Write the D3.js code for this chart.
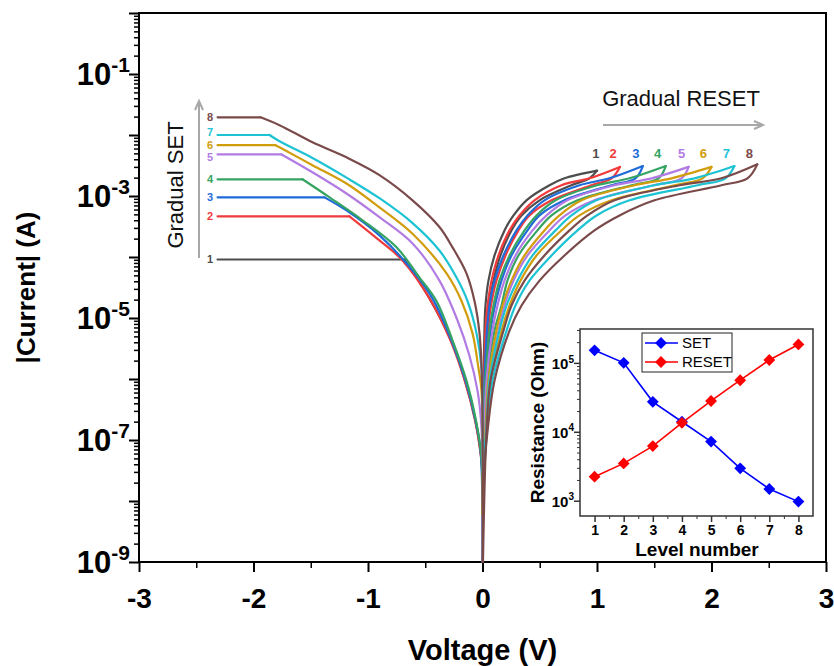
<!DOCTYPE html>
<html>
<head>
<meta charset="utf-8">
<script src="https://cdn.jsdelivr.net/npm/d3@7"></script>
<style>
  body { margin: 0; background: #fff; }
  svg { display: block; }
</style>
</head>
<body>
<div id="chart"></div>
<script>
const width = 834, height = 666;
const FONT = 'Arial, "Liberation Sans", sans-serif';

// ---- data ----
const levels = [1, 2, 3, 4, 5, 6, 7, 8];
const levelColors = ['#4d4d4d', '#f03a3c', '#1f6bd9', '#35a362', '#b27be3', '#d19d0c', '#1cc3d3', '#7a4a4a'];

// SET sweeps (negative bias), [V, |I|]
const setCurves = [
  [[-2.314, 9.1e-5], [-0.681, 9.1e-5], [-0.463, 2.1e-5], [-0.275, 4.3e-6], [-0.152, 9.4e-7], [-0.063, 2.1e-7], [-0.018, 6.7e-8], [0, 3e-8]],
  [[-2.314, 4.65e-4], [-1.162, 4.65e-4], [-0.900, 1.87e-4], [-0.699, 8.8e-5], [-0.463, 2.1e-5], [-0.280, 4.3e-6], [-0.155, 9.4e-7], [-0.065, 2.1e-7], [-0.020, 6.7e-8], [0, 3e-8]],
  [[-2.314, 9.5e-4], [-1.380, 9.5e-4], [-1.188, 5.8e-4], [-0.900, 2.26e-4], [-0.611, 6.0e-5], [-0.437, 2.1e-5], [-0.271, 4.3e-6], [-0.148, 9.4e-7], [-0.061, 2.1e-7], [-0.017, 6.7e-8], [0, 1e-9]],
  [[-2.314, 1.88e-3], [-1.572, 1.88e-3], [-1.336, 9.5e-4], [-1.048, 4.0e-4], [-0.751, 1.44e-4], [-0.550, 4.6e-5], [-0.402, 1.9e-5], [-0.262, 4.3e-6], [-0.140, 9.4e-7], [-0.057, 2.1e-7], [-0.015, 6.7e-8], [0, 2e-8]],
  [[-2.314, 4.8e-3], [-1.755, 4.8e-3], [-1.485, 2.45e-3], [-1.188, 1.1e-3], [-0.900, 4.5e-4], [-0.611, 1.67e-4], [-0.376, 4.1e-5], [-0.218, 9.1e-6], [-0.114, 2.4e-6], [-0.044, 6.5e-7], [-0.013, 2.1e-7], [0, 4e-8]],
  [[-2.314, 6.8e-3], [-1.808, 6.8e-3], [-1.773, 6.3e-3], [-1.485, 3.2e-3], [-1.188, 1.6e-3], [-0.900, 6.5e-4], [-0.611, 2.4e-4], [-0.314, 5.4e-5], [-0.183, 1.9e-5], [-0.087, 5.6e-6], [-0.035, 1.5e-6], [-0.009, 6.5e-7], [0, 6e-9]],
  [[-2.314, 1.0e-2], [-1.860, 1.0e-2], [-1.773, 7.9e-3], [-1.485, 4.2e-3], [-1.188, 2.0e-3], [-0.900, 9.2e-4], [-0.611, 3.6e-4], [-0.376, 1.28e-4], [-0.227, 4.6e-5], [-0.131, 1.9e-5], [-0.052, 5.6e-6], [-0.009, 1.5e-6], [0, 3e-8]],
  [[-2.314, 1.95e-2], [-1.939, 1.95e-2], [-1.773, 1.45e-2], [-1.485, 7.6e-3], [-1.188, 4.3e-3], [-0.900, 2.2e-3], [-0.611, 8.5e-4], [-0.376, 3.1e-4], [-0.262, 1.44e-4], [-0.140, 5.4e-5], [-0.070, 1.9e-5], [-0.026, 5.6e-6], [-0.004, 8.4e-7], [0, 1e-9]]
];

// RESET sweeps (positive bias): rising branch and returning branch, [V, |I|]
const resetUp = [
  [[0.002, 3e-8], [0.004, 1.4e-7], [0.009, 9.4e-7], [0.017, 6.2e-6], [0.026, 1.6e-5], [0.052, 4.1e-5], [0.105, 1.06e-4], [0.192, 2.73e-4], [0.271, 4.8e-4], [0.384, 8.5e-4], [0.585, 1.5e-3], [0.716, 1.95e-3], [1.0, 2.6e-3]],
  [[0.002, 4e-8], [0.006, 1.4e-7], [0.013, 9.4e-7], [0.026, 6.2e-6], [0.044, 1.6e-5], [0.079, 4.1e-5], [0.140, 1.06e-4], [0.236, 2.73e-4], [0.323, 4.8e-4], [0.454, 8.5e-4], [0.690, 1.5e-3], [0.934, 1.95e-3], [1.2, 3.0e-3]],
  [[0.002, 1e-8], [0.009, 1.4e-7], [0.017, 9.4e-7], [0.039, 6.2e-6], [0.061, 1.6e-5], [0.105, 4.1e-5], [0.183, 1.06e-4], [0.297, 2.73e-4], [0.393, 4.8e-4], [0.541, 8.5e-4], [0.847, 1.5e-3], [1.109, 1.95e-3], [1.4, 3.1e-3]],
  [[0.003, 2e-8], [0.013, 1.4e-7], [0.026, 9.4e-7], [0.061, 6.2e-6], [0.096, 1.6e-5], [0.148, 4.1e-5], [0.236, 1.06e-4], [0.367, 2.73e-4], [0.472, 4.8e-4], [0.638, 8.5e-4], [1.0, 1.5e-3], [1.284, 1.95e-3], [1.6, 3.1e-3]],
  [[0.003, 3e-8], [0.017, 1.4e-7], [0.035, 9.4e-7], [0.087, 6.2e-6], [0.131, 1.6e-5], [0.192, 4.1e-5], [0.288, 1.06e-4], [0.437, 2.73e-4], [0.559, 4.8e-4], [0.742, 8.5e-4], [1.153, 1.5e-3], [1.476, 1.95e-3], [1.8, 3.0e-3]],
  [[0.003, 6e-9], [0.026, 1.4e-7], [0.052, 9.4e-7], [0.122, 6.2e-6], [0.175, 1.6e-5], [0.253, 4.1e-5], [0.367, 1.06e-4], [0.541, 2.73e-4], [0.672, 4.8e-4], [0.865, 8.5e-4], [1.328, 1.5e-3], [1.651, 1.95e-3], [2.0, 3.0e-3]],
  [[0.004, 3e-8], [0.031, 1.4e-7], [0.061, 9.4e-7], [0.148, 6.2e-6], [0.210, 1.6e-5], [0.306, 4.1e-5], [0.437, 1.06e-4], [0.638, 2.73e-4], [0.777, 4.8e-4], [0.996, 8.5e-4], [1.502, 1.5e-3], [1.852, 1.95e-3], [2.2, 3.1e-3]],
  [[0.004, 1e-9], [0.035, 1.4e-7], [0.070, 9.4e-7], [0.183, 6.2e-6], [0.253, 1.6e-5], [0.367, 4.1e-5], [0.541, 1.06e-4], [0.760, 2.73e-4], [0.917, 4.8e-4], [1.153, 8.5e-4], [1.721, 1.5e-3], [2.087, 1.95e-3], [2.4, 3.3e-3]]
];
const resetDown = [
  [[0.003, 2e-8], [0.009, 1.4e-7], [0.017, 9.4e-7], [0.035, 6.2e-6], [0.057, 1.6e-5], [0.096, 4.1e-5], [0.157, 1.06e-4], [0.253, 2.73e-4], [0.341, 4.8e-4], [0.498, 8.5e-4], [0.777, 1.5e-3], [0.934, 1.95e-3], [1.0, 2.6e-3]],
  [[0.003, 2e-8], [0.011, 1.4e-7], [0.022, 9.4e-7], [0.048, 6.2e-6], [0.074, 1.6e-5], [0.122, 4.1e-5], [0.201, 1.06e-4], [0.314, 2.73e-4], [0.410, 4.8e-4], [0.603, 8.5e-4], [0.952, 1.5e-3], [1.127, 1.95e-3], [1.2, 3.0e-3]],
  [[0.004, 3e-8], [0.016, 1.4e-7], [0.031, 9.4e-7], [0.070, 6.2e-6], [0.109, 1.6e-5], [0.166, 4.1e-5], [0.253, 1.06e-4], [0.393, 2.73e-4], [0.498, 4.8e-4], [0.716, 8.5e-4], [1.127, 1.5e-3], [1.336, 1.95e-3], [1.4, 3.1e-3]],
  [[0.004, 2e-8], [0.020, 1.4e-7], [0.044, 9.4e-7], [0.105, 6.2e-6], [0.166, 1.6e-5], [0.218, 4.1e-5], [0.314, 1.06e-4], [0.480, 2.73e-4], [0.603, 4.8e-4], [0.830, 8.5e-4], [1.301, 1.5e-3], [1.537, 1.95e-3], [1.6, 3.1e-3]],
  [[0.005, 2e-8], [0.026, 1.4e-7], [0.061, 9.4e-7], [0.140, 6.2e-6], [0.192, 1.6e-5], [0.271, 4.1e-5], [0.393, 1.06e-4], [0.585, 2.73e-4], [0.725, 4.8e-4], [0.978, 8.5e-4], [1.493, 1.5e-3], [1.738, 1.95e-3], [1.8, 3.0e-3]],
  [[0.005, 2e-8], [0.033, 1.4e-7], [0.070, 9.4e-7], [0.166, 6.2e-6], [0.236, 1.6e-5], [0.332, 4.1e-5], [0.472, 1.06e-4], [0.690, 2.73e-4], [0.847, 4.8e-4], [1.127, 8.5e-4], [1.677, 1.5e-3], [1.921, 1.95e-3], [2.0, 3.0e-3]],
  [[0.006, 2e-8], [0.039, 1.4e-7], [0.087, 9.4e-7], [0.210, 6.2e-6], [0.288, 1.6e-5], [0.410, 4.1e-5], [0.603, 1.06e-4], [0.830, 2.73e-4], [0.996, 4.8e-4], [1.284, 8.5e-4], [1.878, 1.5e-3], [2.122, 1.95e-3], [2.2, 3.1e-3]],
  [[0.006, 2e-8], [0.044, 1.4e-7], [0.105, 9.4e-7], [0.236, 6.2e-6], [0.341, 1.6e-5], [0.498, 4.1e-5], [0.716, 1.06e-4], [0.978, 2.73e-4], [1.197, 4.8e-4], [1.502, 8.5e-4], [2.087, 1.5e-3], [2.314, 1.95e-3], [2.4, 3.3e-3]]
];

// inset: resistance per level (Ohm)
const setResistance = [1.52e5, 1.0e5, 2.72e4, 1.4e4, 7.2e3, 2.95e3, 1.48e3, 970];
const resetResistance = [2.23e3, 3.48e3, 6.2e3, 1.35e4, 2.8e4, 5.6e4, 1.1e5, 1.85e5];

const voltageTicks = [-3, -2, -1, 0, 1, 2, 3];
const currentLabelTicks = [1e-1, 1e-3, 1e-5, 1e-7, 1e-9];
const insetLevelTicks = [1, 2, 3, 4, 5, 6, 7, 8];
const insetResTicks = [1e3, 1e4, 1e5];

// ---- main chart ----
const svg = d3.select('#chart').append('svg')
  .attr('width', width).attr('height', height)
  .attr('viewBox', `0 0 ${width} ${height}`);

const xScale = d3.scaleLinear().domain([-3, 3]).range([139, 826]);
const yScale = d3.scaleLog().domain([1e-9, 1]).range([562, 13]);

function logTicks(scale) {
  const [lo, hi] = scale.domain();
  const major = [], minor = [];
  for (let e = Math.round(Math.log10(lo)); e <= Math.round(Math.log10(hi)); e++) {
    const b = Math.pow(10, e);
    if (b >= lo * 0.999 && b <= hi * 1.001) major.push(b);
    for (let m = 2; m <= 9; m++) {
      const v = m * b;
      if (v >= lo && v <= hi) minor.push(v);
    }
  }
  return { major, minor };
}

function supLabel(sel, v, sizeBase, sizeSup) {
  const e = Math.round(Math.log10(v));
  sel.text(null);
  sel.append('tspan').attr('font-size', sizeBase).text('10');
  sel.append('tspan').attr('font-size', sizeSup).attr('dy', -sizeBase * 0.42).text(e);
}

// Y axis (log)
const yt = logTicks(yScale);
svg.append('g').attr('transform', 'translate(139,0)')
  .call(d3.axisLeft(yScale).tickValues(yt.minor).tickSize(5).tickFormat(''))
  .call(g => { g.select('.domain').remove(); g.selectAll('line').attr('stroke', '#000').attr('stroke-width', 1.5); });
svg.append('g').attr('transform', 'translate(139,0)')
  .call(d3.axisLeft(yScale).tickValues(yt.major).tickSize(10).tickFormat(''))
  .call(g => { g.select('.domain').remove(); g.selectAll('line').attr('stroke', '#000').attr('stroke-width', 2); });

svg.append('g').selectAll('text')
  .data(currentLabelTicks).join('text')
  .attr('x', 130).attr('y', d => yScale(d) + 11)
  .attr('text-anchor', 'end')
  .attr('font-family', FONT).attr('font-weight', 'bold').attr('fill', '#000')
  .each(function (d) { supLabel(d3.select(this), d, 31, 21); });

// X axis
svg.append('g').attr('transform', 'translate(0,562)')
  .call(d3.axisBottom(xScale).tickValues(d3.range(-2.5, 3, 1)).tickSize(6).tickFormat(''))
  .call(g => { g.select('.domain').remove(); g.selectAll('line').attr('stroke', '#000').attr('stroke-width', 1.5); });
svg.append('g').attr('transform', 'translate(0,562)')
  .call(d3.axisBottom(xScale).tickValues(voltageTicks).tickSize(10).tickPadding(16).tickFormat(d => String(d)))
  .call(g => {
    g.select('.domain').remove();
    g.selectAll('line').attr('stroke', '#000').attr('stroke-width', 2);
    g.selectAll('text').attr('font-family', FONT).attr('font-weight', 'bold')
      .attr('font-size', 28).attr('fill', '#000');
  });

// frame
svg.append('rect')
  .attr('x', 139).attr('y', 13).attr('width', 826 - 139).attr('height', 562 - 13)
  .attr('fill', 'none').attr('stroke', '#000').attr('stroke-width', 2);

// axis titles
svg.append('text')
  .attr('x', (139 + 826) / 2).attr('y', 660)
  .attr('text-anchor', 'middle')
  .attr('font-family', FONT).attr('font-weight', 'bold').attr('font-size', 29)
  .text('Voltage (V)');
svg.append('text')
  .attr('transform', `translate(35,${(13 + 562) / 2}) rotate(-90)`)
  .attr('text-anchor', 'middle')
  .attr('font-family', FONT).attr('font-weight', 'bold').attr('font-size', 26)
  .text('|Current| (A)');

// curves
const lineFn = d3.line().x(d => xScale(d[0])).y(d => yScale(d[1])).curve(d3.curveCatmullRom.alpha(0.5));
const flatFn = d3.line().x(d => xScale(d[0])).y(d => yScale(d[1]));
const curves = svg.append('g').attr('fill', 'none').attr('stroke-width', 2.2)
  .attr('stroke-linejoin', 'round').attr('stroke-linecap', 'round');

levels.forEach((lv, i) => {
  const c = levelColors[i];
  const s = setCurves[i];
  curves.append('path').attr('d', flatFn(s.slice(0, 2))).attr('stroke', c);
  curves.append('path').attr('d', lineFn(s.slice(1))).attr('stroke', c);
  curves.append('path').attr('d', lineFn(resetDown[i])).attr('stroke', c);
  curves.append('path').attr('d', lineFn(resetUp[i])).attr('stroke', c);
});

// level labels, SET side
const setLabelNudge = [0, 0, 0, 0, 3, 0, -3, 0];
svg.append('g').selectAll('text')
  .data(levels).join('text')
  .attr('x', 210).attr('y', (d, i) => yScale(setCurves[i][0][1]) + 4 + setLabelNudge[i])
  .attr('text-anchor', 'middle')
  .attr('font-family', FONT).attr('font-weight', 'bold').attr('font-size', 11)
  .attr('fill', (d, i) => levelColors[i])
  .text(d => d);

// level labels, RESET side
const resetLabelV = [0.99, 1.14, 1.34, 1.53, 1.74, 1.93, 2.13, 2.33];
svg.append('g').selectAll('text')
  .data(levels).join('text')
  .attr('x', (d, i) => xScale(resetLabelV[i])).attr('y', 158)
  .attr('text-anchor', 'middle')
  .attr('font-family', FONT).attr('font-weight', 'bold').attr('font-size', 13)
  .attr('fill', (d, i) => levelColors[i])
  .text(d => d);

// annotation arrows
const arrowCol = '#a8a8a8';
svg.append('line').attr('x1', 199).attr('x2', 199).attr('y1', 258).attr('y2', 102)
  .attr('stroke', arrowCol).attr('stroke-width', 2);
svg.append('path').attr('d', 'M195,110 L199,101 L203,110')
  .attr('fill', 'none').attr('stroke', arrowCol).attr('stroke-width', 2);
svg.append('text')
  .attr('transform', 'translate(183,185) rotate(-90)')
  .attr('text-anchor', 'middle')
  .attr('font-family', FONT).attr('font-size', 22).attr('fill', '#111')
  .text('Gradual SET');

svg.append('line').attr('x1', 603).attr('x2', 762).attr('y1', 125).attr('y2', 125)
  .attr('stroke', arrowCol).attr('stroke-width', 2);
svg.append('path').attr('d', 'M754,121 L763,125 L754,129')
  .attr('fill', 'none').attr('stroke', arrowCol).attr('stroke-width', 2);
svg.append('text')
  .attr('x', 681).attr('y', 106)
  .attr('text-anchor', 'middle')
  .attr('font-family', FONT).attr('font-size', 22).attr('fill', '#111')
  .text('Gradual RESET');

// ---- inset ----
const xI = d3.scaleLinear().domain([0.5, 8.5]).range([580, 813]);
const yI = d3.scaleLog().domain([600, 3.1e5]).range([516, 329]);
const inset = svg.append('g');

inset.append('rect')
  .attr('x', 580).attr('y', 329).attr('width', 813 - 580).attr('height', 516 - 329)
  .attr('fill', '#fff').attr('stroke', '#333').attr('stroke-width', 1.5);

const it = logTicks(yI);
inset.append('g').attr('transform', 'translate(580,0)')
  .call(d3.axisLeft(yI).tickValues(it.minor).tickSize(3).tickFormat(''))
  .call(g => { g.select('.domain').remove(); g.selectAll('line').attr('stroke', '#333'); });
inset.append('g').attr('transform', 'translate(580,0)')
  .call(d3.axisLeft(yI).tickValues(it.major).tickSize(6).tickFormat(''))
  .call(g => { g.select('.domain').remove(); g.selectAll('line').attr('stroke', '#333').attr('stroke-width', 1.5); });
inset.append('g').selectAll('text')
  .data(insetResTicks).join('text')
  .attr('x', 574).attr('y', d => yI(d) + 6)
  .attr('text-anchor', 'end')
  .attr('font-family', FONT).attr('font-weight', 'bold').attr('fill', '#000')
  .each(function (d) { supLabel(d3.select(this), d, 15, 10); });

inset.append('g').attr('transform', 'translate(0,516)')
  .call(d3.axisBottom(xI).tickValues(d3.range(1.5, 8, 1)).tickSize(3).tickFormat(''))
  .call(g => { g.select('.domain').remove(); g.selectAll('line').attr('stroke', '#333'); });
inset.append('g').attr('transform', 'translate(0,516)')
  .call(d3.axisBottom(xI).tickValues(insetLevelTicks).tickSize(6).tickPadding(3).tickFormat(d => d))
  .call(g => {
    g.select('.domain').remove();
    g.selectAll('line').attr('stroke', '#333').attr('stroke-width', 1.5);
    g.selectAll('text').attr('font-family', FONT).attr('font-weight', 'bold')
      .attr('font-size', 14).attr('fill', '#000');
  });

inset.append('text')
  .attr('x', 697).attr('y', 556)
  .attr('text-anchor', 'middle')
  .attr('font-family', FONT).attr('font-weight', 'bold').attr('font-size', 19)
  .text('Level number');
inset.append('text')
  .attr('transform', `translate(544,${(329 + 516) / 2}) rotate(-90)`)
  .attr('text-anchor', 'middle')
  .attr('font-family', FONT).attr('font-weight', 'bold').attr('font-size', 19)
  .text('Resistance (Ohm)');

const diamond = d3.symbol().type(d3.symbolSquare).size(70);
const insetSeries = [
  { name: 'SET', values: setResistance, color: '#0000ff' },
  { name: 'RESET', values: resetResistance, color: '#ff0000' }
];
const insetLine = d3.line().x((d, i) => xI(levels[i])).y(d => yI(d));
insetSeries.forEach(s => {
  inset.append('path').attr('d', insetLine(s.values))
    .attr('fill', 'none').attr('stroke', s.color).attr('stroke-width', 1.6);
  inset.append('g').selectAll('path')
    .data(s.values).join('path')
    .attr('d', diamond)
    .attr('transform', (d, i) => `translate(${xI(levels[i])},${yI(d)}) rotate(45)`)
    .attr('fill', s.color);
});

// legend
const leg = inset.append('g').attr('transform', 'translate(642,333)');
leg.append('rect').attr('width', 90).attr('height', 39)
  .attr('fill', '#fff').attr('stroke', '#222').attr('stroke-width', 1);
insetSeries.forEach((s, i) => {
  const r = leg.append('g').attr('transform', `translate(0,${10 + i * 19})`);
  r.append('line').attr('x1', 3).attr('x2', 36).attr('y1', 0).attr('y2', 0)
    .attr('stroke', s.color).attr('stroke-width', 1.6);
  r.append('path').attr('d', diamond).attr('transform', 'translate(19,0) rotate(45)')
    .attr('fill', s.color);
  r.append('text').attr('x', 40).attr('y', 5)
    .attr('font-family', FONT).attr('font-size', 15).attr('fill', '#000')
    .text(s.name);
});
</script>
</body>
</html>
